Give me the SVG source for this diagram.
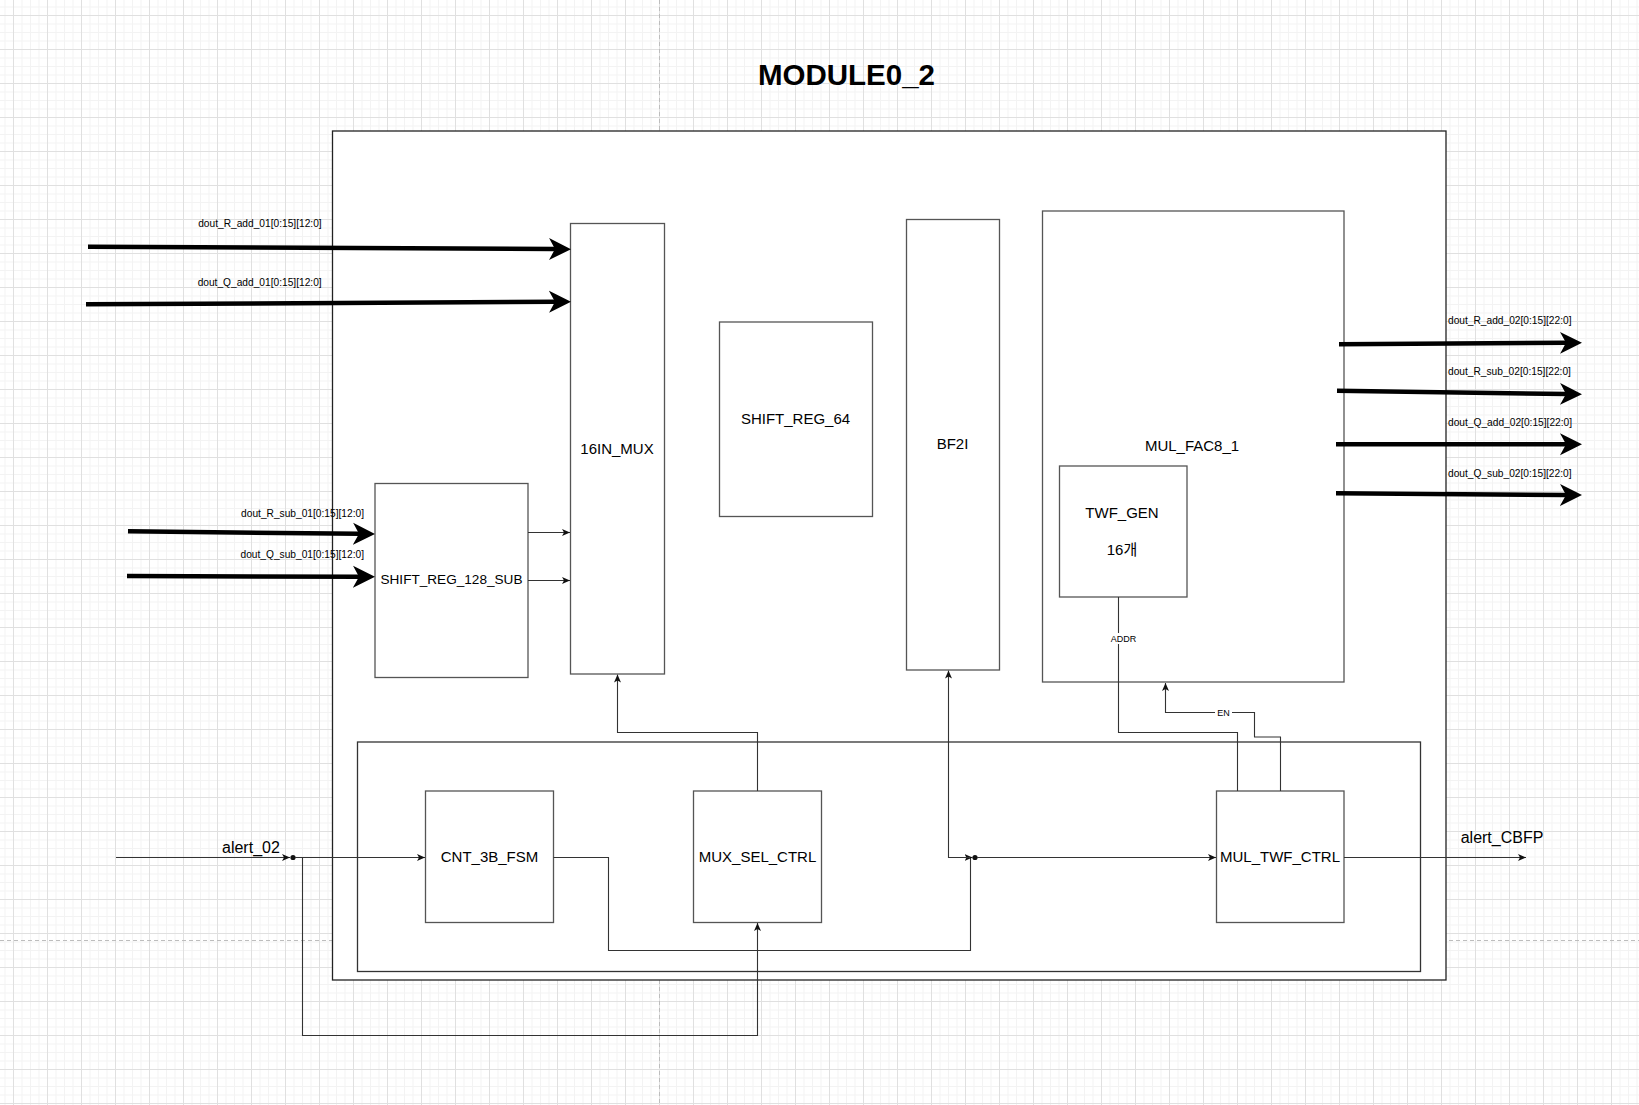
<svg xmlns="http://www.w3.org/2000/svg" width="1639" height="1105" viewBox="0 0 1639 1105">
<style>
.box{fill:#fff;stroke:#555;stroke-width:1.3}
.frame{fill:#fff;stroke:#222;stroke-width:1.3}
.lbl{font-family:"Liberation Sans",Arial,sans-serif;font-size:15px;fill:#000;text-anchor:middle}
.sm{font-family:"Liberation Sans",Arial,sans-serif;font-size:10.2px;fill:#000}
.big{font-family:"Liberation Sans",Arial,sans-serif;font-size:16px;fill:#000}
.tiny{font-family:"Liberation Sans",Arial,sans-serif;font-size:9px;fill:#000;text-anchor:middle}
.bus{fill:none;stroke:#000;stroke-width:4.5;marker-end:url(#bigArrow)}
.wire{fill:none;stroke:#333;stroke-width:1.1}
.wa{fill:none;stroke:#333;stroke-width:1.1;marker-end:url(#smallArrow)}
</style>
<defs>
<pattern id="grid" x="9" y="11" width="34" height="34" patternUnits="userSpaceOnUse">
<path d="M13 0V34M21.5 0V34M30 0V34M0 13H34M0 21.5H34M0 30H34" stroke="#f3f3f3" stroke-width="1" fill="none"/>
<path d="M4.5 0V34M0 4.5H34" stroke="#e0e0e0" stroke-width="1" fill="none"/>
</pattern>
<marker id="bigArrow" markerUnits="userSpaceOnUse" viewBox="0 0 22 24" refX="6" refY="12" markerWidth="22" markerHeight="24" orient="auto">
<path d="M0,1 L22,12 L0,23 L6,12 Z" fill="#000"/>
</marker>
<marker id="smallArrow" markerUnits="userSpaceOnUse" viewBox="0 0 8 8" refX="8" refY="4" markerWidth="8" markerHeight="8" orient="auto">
<path d="M0,0.5 L8,4 L0,7.5 L2,4 Z" fill="#111"/>
</marker>
</defs>
<rect x="0" y="0" width="1639" height="1105" fill="#fff"/>
<rect x="0" y="0" width="1639" height="1105" fill="url(#grid)"/>
<path d="M659.5 0V1105M0 940.5H1639" stroke="#bdbdbd" stroke-width="1" stroke-dasharray="4 3" fill="none"/>

<text x="846.5" y="84.5" font-family="'Liberation Sans',Arial,sans-serif" font-size="29.5" font-weight="bold" text-anchor="middle" fill="#000">MODULE0_2</text>

<g id="module0_2">
<rect class="frame" x="332.5" y="131" width="1113.5" height="849"/>
</g>
<g id="ctrl_block">
<rect class="frame" x="357.5" y="742" width="1063" height="229.5" style="stroke:#333"/>
</g>
<g id="mux16">
<rect class="box" x="570.5" y="223.5" width="94" height="450.5"/>
<text class="lbl" x="617" y="454">16IN_MUX</text>
</g>
<g id="shift_reg_64">
<rect class="box" x="719.5" y="322" width="153" height="194.5"/>
<text class="lbl" x="795.5" y="424">SHIFT_REG_64</text>
</g>
<g id="bf2i">
<rect class="box" x="906.5" y="219.5" width="93" height="450.5"/>
<text class="lbl" x="952.5" y="449">BF2I</text>
</g>
<g id="mul_fac8_1">
<rect class="box" x="1042.5" y="211" width="301.5" height="471"/>
<text class="lbl" x="1192" y="450.5">MUL_FAC8_1</text>
</g>
<g id="twf_gen">
<rect class="box" x="1059.5" y="466" width="127.5" height="131"/>
<text class="lbl" x="1122" y="518">TWF_GEN</text>
<text class="lbl" x="1122" y="555" style="font-family:'Liberation Sans','Noto Sans CJK KR',sans-serif">16개</text>
</g>
<g id="shift_reg_128_sub">
<rect class="box" x="375" y="483.5" width="153" height="194"/>
<text class="lbl" x="451.5" y="584" style="font-size:13.6px">SHIFT_REG_128_SUB</text>
</g>
<g id="cnt_3b_fsm">
<rect class="box" x="425.5" y="791" width="128" height="131.5"/>
<text class="lbl" x="489.5" y="862">CNT_3B_FSM</text>
</g>
<g id="mux_sel_ctrl">
<rect class="box" x="693.5" y="791" width="128" height="131.5"/>
<text class="lbl" x="757.5" y="862">MUX_SEL_CTRL</text>
</g>
<g id="mul_twf_ctrl">
<rect class="box" x="1216.5" y="791" width="127.5" height="131.5"/>
<text class="lbl" x="1280" y="862">MUL_TWF_CTRL</text>
</g>

<g id="connectors">
<path class="bus" d="M88 246.7 L555 249.1"/>
<path class="bus" d="M86 304.3 L555 301.8"/>
<path class="bus" d="M128 531.3 L359 533.8"/>
<path class="bus" d="M127 576 L359 576.7"/>
<path class="bus" d="M1339 344.3 L1566 342.8"/>
<path class="bus" d="M1337 390.7 L1566 394"/>
<path class="bus" d="M1336 444.3 L1566 444.3"/>
<path class="bus" d="M1336 493.3 L1566 495"/>

<path class="wa" d="M528 532.5 H570"/>
<path class="wa" d="M528 580.5 H570"/>

<path class="wa" d="M116 857.5 H290"/>
<circle cx="293" cy="857.5" r="2.6" fill="#111"/>
<path class="wa" d="M295 857.5 H425"/>
<path class="wa" d="M302.5 857.5 V1035.5 H757.5 V923"/>
<path class="wa" d="M757.5 791 V732.5 H617.5 V674.5"/>

<path class="wire" d="M553.5 857.5 H608.5 V950.5 H970.5 V857.5"/>
<path class="wa" d="M965 857.5 H972.5"/>
<circle cx="975" cy="857.5" r="2.6" fill="#111"/>
<path class="wa" d="M970 857.5 H948.5 V670.5"/>
<path class="wa" d="M977 857.5 H1216"/>
<path class="wa" d="M1344 857.5 H1526"/>

<path class="wire" d="M1118.5 597 V732.5 H1237.5 V791"/>
<rect x="1109" y="633" width="29" height="11" fill="#fff"/>
<text class="tiny" x="1123.5" y="642">ADDR</text>

<path class="wa" d="M1280.5 791 V737 H1254.5 V712.5 H1165.5 V683"/>
<rect x="1215" y="707" width="17" height="11" fill="#fff"/>
<text class="tiny" x="1223.5" y="715.5">EN</text>
</g>

<g id="labels">
<text class="sm" x="321.7" y="227" text-anchor="end">dout_R_add_01[0:15][12:0]</text>
<text class="sm" x="321.7" y="285.7" text-anchor="end">dout_Q_add_01[0:15][12:0]</text>
<text class="sm" x="364" y="516.7" text-anchor="end">dout_R_sub_01[0:15][12:0]</text>
<text class="sm" x="364" y="558.3" text-anchor="end">dout_Q_sub_01[0:15][12:0]</text>
<text class="sm" x="1448" y="324">dout_R_add_02[0:15][22:0]</text>
<text class="sm" x="1448" y="375">dout_R_sub_02[0:15][22:0]</text>
<text class="sm" x="1448" y="426">dout_Q_add_02[0:15][22:0]</text>
<text class="sm" x="1448" y="476.7">dout_Q_sub_02[0:15][22:0]</text>
<text class="big" x="222" y="853">alert_02</text>
<text class="big" x="1460.7" y="843">alert_CBFP</text>
</g>
</svg>
